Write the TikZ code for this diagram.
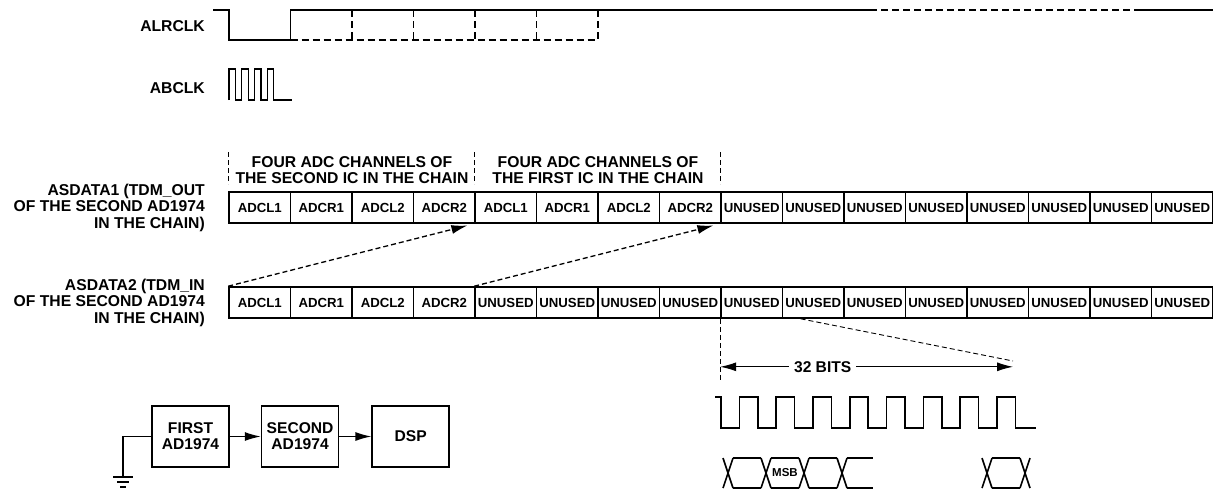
\documentclass[tikz,border=0pt]{standalone}
\usepackage{fontspec}
\setmainfont{Liberation Sans}
\usetikzlibrary{arrows.meta,positioning,calc}

\begin{document}
\begin{tikzpicture}[x=1pt,y=-1pt,
    sig/.style={line width=1.6pt},
    longdash/.style={dash pattern=on 7pt off 4pt},
    guide/.style={line width=0.9pt,dash pattern=on 5pt off 3pt},
    cell/.style={draw,line width=1.6pt,minimum width=61.5pt,minimum height=31pt,inner sep=0pt,font=\fontsize{13.2}{14}\selectfont\bfseries},
    lbl/.style={anchor=east,align=right,inner sep=0pt,font=\fontsize{15.7}{16.5}\selectfont\bfseries},
    hdr/.style={align=center,inner sep=0pt,font=\fontsize{15.7}{15.5}\selectfont\bfseries},
    blk/.style={draw,line width=1.6pt,minimum width=77pt,minimum height=61pt,inner sep=0pt,align=center,font=\fontsize{15.6}{16}\selectfont\bfseries},
    tip/.style={-{Latex[length=16pt,width=9pt]}}]
    \useasboundingbox (0,0) rectangle (1213,490);

    % clocks
    \node[lbl] (lrclk) at (205,26) {ALRCLK};
    \node[lbl] (bclk) at (205,88) {ABCLK};
    \draw[sig] (213,10) -- (229,10) -- (229,40) -- (290.5,40) -- (290.5,10) -- (870,10);
    \draw[sig,longdash] (870,10) -- (1140,10);
    \draw[sig] (1140,10) -- (1213,10);
    \draw[sig,longdash] (290.5,40) -- (598,40);
    \foreach \k in {2,...,6}
        \draw[sig,longdash] ({229+61.5*\k},10) -- ({229+61.5*\k},40);
    \draw[line width=1.3pt] (229,100) -- (229,69)
        foreach \k in {1,2,3} { -- ++(6.4,0) -- ++(0,31) -- ++(6.4,0) -- ++(0,-31) }
        -- ++(6.4,0) -- ++(0,31) -- (292,100);

    % TDM rows
    \foreach \t [count=\i] in {ADCL1,ADCR1,ADCL2,ADCR2,ADCL1,ADCR1,ADCL2,ADCR2,UNUSED,UNUSED,UNUSED,UNUSED,UNUSED,UNUSED,UNUSED,UNUSED}
        \node[cell] (a\i) at ({229+61.5*(\i-0.5)},207.5) {\t};
    \foreach \t [count=\i] in {ADCL1,ADCR1,ADCL2,ADCR2,UNUSED,UNUSED,UNUSED,UNUSED,UNUSED,UNUSED,UNUSED,UNUSED,UNUSED,UNUSED,UNUSED,UNUSED}
        \node[cell] (b\i) at ({229+61.5*(\i-0.5)},302.5) {\t};
    \node[lbl] (out) at (205,207.5) {ASDATA1 (TDM\_OUT\\OF THE SECOND AD1974\\IN THE CHAIN)};
    \node[lbl] (in) at (205,302.5) {ASDATA2 (TDM\_IN\\OF THE SECOND AD1974\\IN THE CHAIN)};
    \node[hdr] (second ic) at (352,170) {FOUR ADC CHANNELS OF\\THE SECOND IC IN THE CHAIN};
    \node[hdr] (first ic) at (598,170) {FOUR ADC CHANNELS OF\\THE FIRST IC IN THE CHAIN};
    \foreach \n in {1,5,9}
        \draw[guide] ($(a\n.north west)+(0,-39)$) -- ($(a\n.north west)+(0,-7)$);
    \draw[line width=1.3pt,dash pattern=on 5pt off 3pt,tip,shorten >=7pt] (b1.north west) -- (a5.south west);
    \draw[line width=1.3pt,dash pattern=on 5pt off 3pt,tip,shorten >=7pt] (b5.north west) -- (a9.south west);

    % one slot, zoomed
    \coordinate (gapL) at ($(b9.south west)+(0,62)$);
    \coordinate (zoomR) at (1013,361);
    \coordinate (bitsL) at ($(b9.south west)+(0,48)$);
    \coordinate (bitsR) at (zoomR |- bitsL);
    \draw[guide] (b9.south west) -- (gapL);
    \draw[guide] ($(b10.south west)!0.3!(b10.south east)$) -- (zoomR);
    \draw[line width=1pt,{Latex[length=16pt,width=9pt]}-{Latex[length=16pt,width=9pt]}] (bitsL) -- (bitsR)
        node[pos=0.35,fill=white,inner xsep=5pt,font=\fontsize{15.6}{16}\selectfont\bfseries] (bits) {32 BITS};
    \draw[sig] (715,397) -- (721,397)
        foreach \k in {1,...,8} { -- ++(0,31) -- ++(18.4,0) -- ++(0,-31) -- ++(18.4,0) }
        -- ++(0,31) -- ++(21,0);
    \foreach \c in {728,766,804,842,987,1025}
        \draw[sig] (\c-5,458) -- (\c+5,488) (\c-5,488) -- (\c+5,458);
    \foreach \a/\b in {733/761,771/799,809/837,847/873,992/1020}
        \draw[sig] (\a,458) -- (\b,458) (\a,488) -- (\b,488);
    \node[font=\fontsize{11.5}{12}\selectfont\bfseries] (msb) at (785,473) {MSB};

    % daisy chain
    \node[blk] (first) at (190.5,436.5) {FIRST\\AD1974};
    \node[blk,right=31pt of first] (second) {SECOND\\AD1974};
    \node[blk,right=32pt of second] (dsp) {DSP};
    \draw[line width=1.4pt,tip] (first) -- (second);
    \draw[line width=1.4pt,tip] (second) -- (dsp);
    \coordinate (gnd) at (123,477);
    \draw[line width=1.4pt] (first.west) -| (gnd);
    \draw[line width=1.4pt] ($(gnd)+(-10,0)$) -- ($(gnd)+(10,0)$) % ground
        ($(gnd)+(-6,5)$) -- ($(gnd)+(6,5)$)
        ($(gnd)+(-3,10)$) -- ($(gnd)+(3,10)$);
\end{tikzpicture}
\end{document}
